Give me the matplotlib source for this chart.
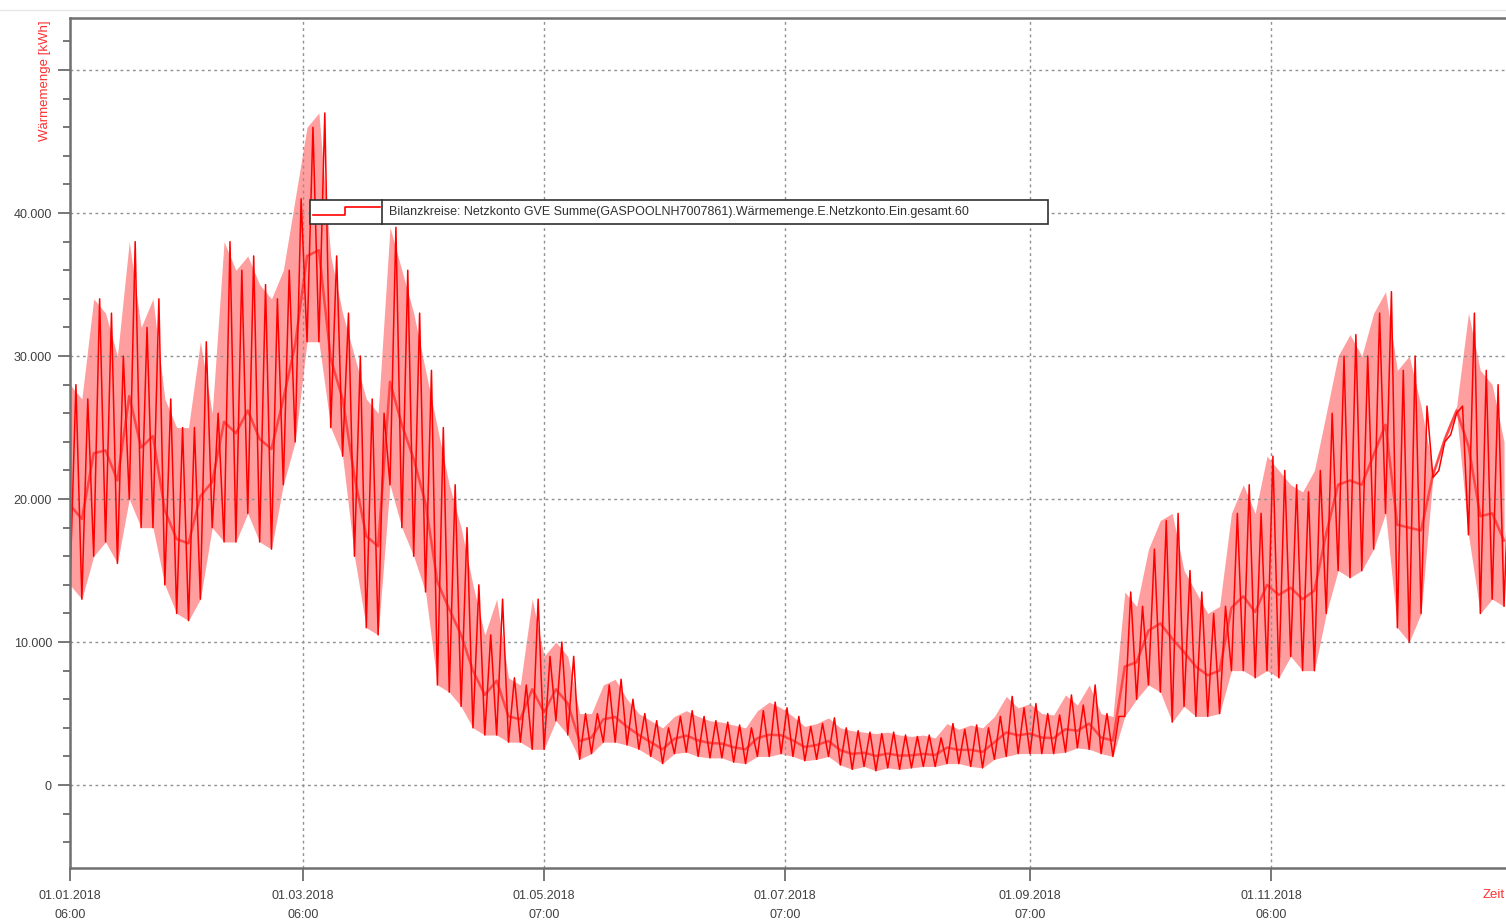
import matplotlib
matplotlib.use("Agg")
import matplotlib.pyplot as plt
import numpy as np
from matplotlib.lines import Line2D
from matplotlib.patches import Rectangle

# day offsets from 01.01.2018 06:00, one sample every 3 days
days = list(range(0, 366, 3))
# daily minimum / maximum, in 1000 kWh
low_k = [14, 13, 16, 17, 15.5, 20, 18, 18, 14, 12, 11.5, 13, 18, 17, 17, 19, 17, 16.5, 21, 24,
         31, 31, 25, 23, 16, 11, 10.5, 21, 18, 16, 13.5, 7, 6.5, 5.5, 4, 3.5, 3.5, 3, 3, 2.5,
         2.5, 4.5, 3.5, 1.8, 2.2, 3, 3, 2.8, 2.5, 2, 1.5, 2.2, 2.3, 2, 1.9, 1.9, 1.6, 1.5, 2, 2,
         2.2, 2, 1.7, 1.8, 2, 1.4, 1.1, 1.3, 1.0, 1.2, 1.1, 1.2, 1.3, 1.3, 1.5, 1.5, 1.3, 1.2, 1.8, 2,
         2.2, 2.2, 2.2, 2.2, 2.3, 2.6, 2.5, 2.2, 2.0, 4.8, 6, 7, 6.5, 4.4, 5.5, 4.8, 4.8, 5, 8, 8,
         7.5, 8, 7.5, 9, 8, 8, 12, 15, 14.5, 15, 16.5, 19, 11, 10, 12, 21.5, 24, 26, 17.5, 12,
         13, 12.5]
high_k = [28, 27, 34, 33, 30, 38, 32, 34, 27, 25, 25, 31, 26, 38, 36, 37, 35, 34, 36, 41,
          46, 47, 37, 33, 30, 27, 26, 39, 36, 33, 29, 25, 21, 18, 14, 10.5, 13, 7.5, 7, 13,
          9, 10, 9, 5, 5, 7, 7.4, 6, 5, 4.5, 4, 4.8, 5.2, 4.8, 4.5, 4.4, 4.2, 4, 5.2, 5.8,
          5.4, 4.8, 4.1, 4.3, 4.7, 4, 3.8, 3.7, 3.6, 3.7, 3.5, 3.4, 3.5, 3.3, 4.3, 3.9, 4.2, 4.0, 4.8, 6.2,
          5.4, 5.7, 5.0, 4.9, 6.3, 5.6, 7.0, 5.0, 4.8, 13.5, 12.5, 16.5, 18.5, 19, 15, 13.5, 12, 12.5, 19, 21,
          19, 23, 22, 21, 20.5, 22, 26, 30, 31.5, 30, 33, 34.5, 29, 30, 26.5, 22, 24.5, 26.5, 33, 29,
          28, 24]

x_ticks = ["2018-01-01T06:00", "2018-03-01T06:00", "2018-05-01T07:00",
           "2018-07-01T07:00", "2018-09-01T07:00", "2018-11-01T06:00"]
x_labels = ["01.01.2018\n06:00", "01.03.2018\n06:00", "01.05.2018\n07:00",
            "01.07.2018\n07:00", "01.09.2018\n07:00", "01.11.2018\n06:00"]
y_ticks = [0, 10000, 20000, 30000, 40000, 50000]
y_labels = ["0", "10.000", "20.000", "30.000", "40.000", ""]
series_name = "Bilanzkreise: Netzkonto GVE Summe(GASPOOLNH7007861).Wärmemenge.E.Netzkonto.Ein.gesamt.60"

W, H = 1506, 921
plt.rcParams['font.family'] = ['Liberation Sans', 'DejaVu Sans']
fig = plt.figure(figsize=(W / 100, H / 100), dpi=100)

def fx(px):
    return px / W

def fy(py):
    return 1 - py / H

ax = fig.add_axes([fx(70), fy(868), fx(1506) - fx(70), fy(18) - fy(868)])

start = np.datetime64("2018-01-01T06:00")
d = np.array(days, dtype=float)
lo = np.array(low_k) * 1000
hi = np.array(high_k) * 1000

# zigzag between daily low and high
t = np.empty(2 * len(d))
v = np.empty(2 * len(d))
t[0::2] = d
t[1::2] = d + 1.5
v[0::2] = lo
v[1::2] = hi
tt = start + (t * 24 * 60).astype("timedelta64[m]")
td = start + (d * 24 * 60).astype("timedelta64[m]")

ax.fill_between(td, lo, hi, color="#ff0000", alpha=0.38, linewidth=0)
ax.plot(td, lo + 0.4 * (hi - lo), color="#ff0000", linewidth=1.8, alpha=0.55)
ax.plot(tt, v, color="#ff0000", linewidth=1.1)

ax.set_xlim(start, start + np.timedelta64(int(363.5 * 24 * 60), "m"))
ax.set_ylim(-5800, 53640)

xt = np.array(x_ticks, dtype="datetime64[m]")
ax.set_xticks(xt)
ax.set_xticklabels(x_labels, linespacing=1.75)
ax.set_yticks(y_ticks)
ax.set_yticklabels(y_labels)
ax.set_yticks(np.arange(-4000, 54000, 2000), minor=True)

ax.tick_params(axis="both", which="major", direction="out", length=9, width=1.2,
               color="#606060", labelcolor="#404040", labelsize=9)
ax.tick_params(axis="y", which="major", pad=4)
ax.tick_params(axis="y", which="minor", direction="out", length=5, width=1.2, color="#606060")
ax.tick_params(axis="x", which="major", pad=7)

ax.grid(True, which="major", color="#909090", linestyle=(0, (2, 2.5)), linewidth=1)
for s in ["left", "bottom", "top"]:
    ax.spines[s].set_color("#707070")
    ax.spines[s].set_linewidth(1.8)
ax.spines["right"].set_visible(False)

# faint outer border line at top
fig.add_artist(Line2D([0, 1], [fy(10), fy(10)], color="#e6e6e6", linewidth=1, transform=fig.transFigure))

fig.text(fx(45), fy(20), "Wärmemenge [kWh]", rotation=90, color="#ff3030",
         fontsize=9.5, ha="center", va="top")
fig.text(fx(1483), fy(895), "Zeit", color="#ff3030", fontsize=9.5, ha="left", va="center")

# legend box
fig.add_artist(Rectangle((fx(310), fy(224)), fx(1048) - fx(310), fy(200) - fy(224),
                         facecolor="white", edgecolor="#303030", linewidth=1.2,
                         transform=fig.transFigure, zorder=5))
fig.add_artist(Line2D([fx(382), fx(382)], [fy(224), fy(200)], color="#303030", linewidth=1.2,
                      transform=fig.transFigure, zorder=6))
fig.add_artist(Line2D([fx(313), fx(345), fx(345), fx(380)], [fy(215), fy(215), fy(207), fy(207)],
                      color="#ff0000", linewidth=1.2, transform=fig.transFigure, zorder=6))
fig.text(fx(389), fy(212), series_name, fontsize=9, color="#303030", ha="left", va="center", zorder=7)

fig.savefig("out.png", dpi=100)
